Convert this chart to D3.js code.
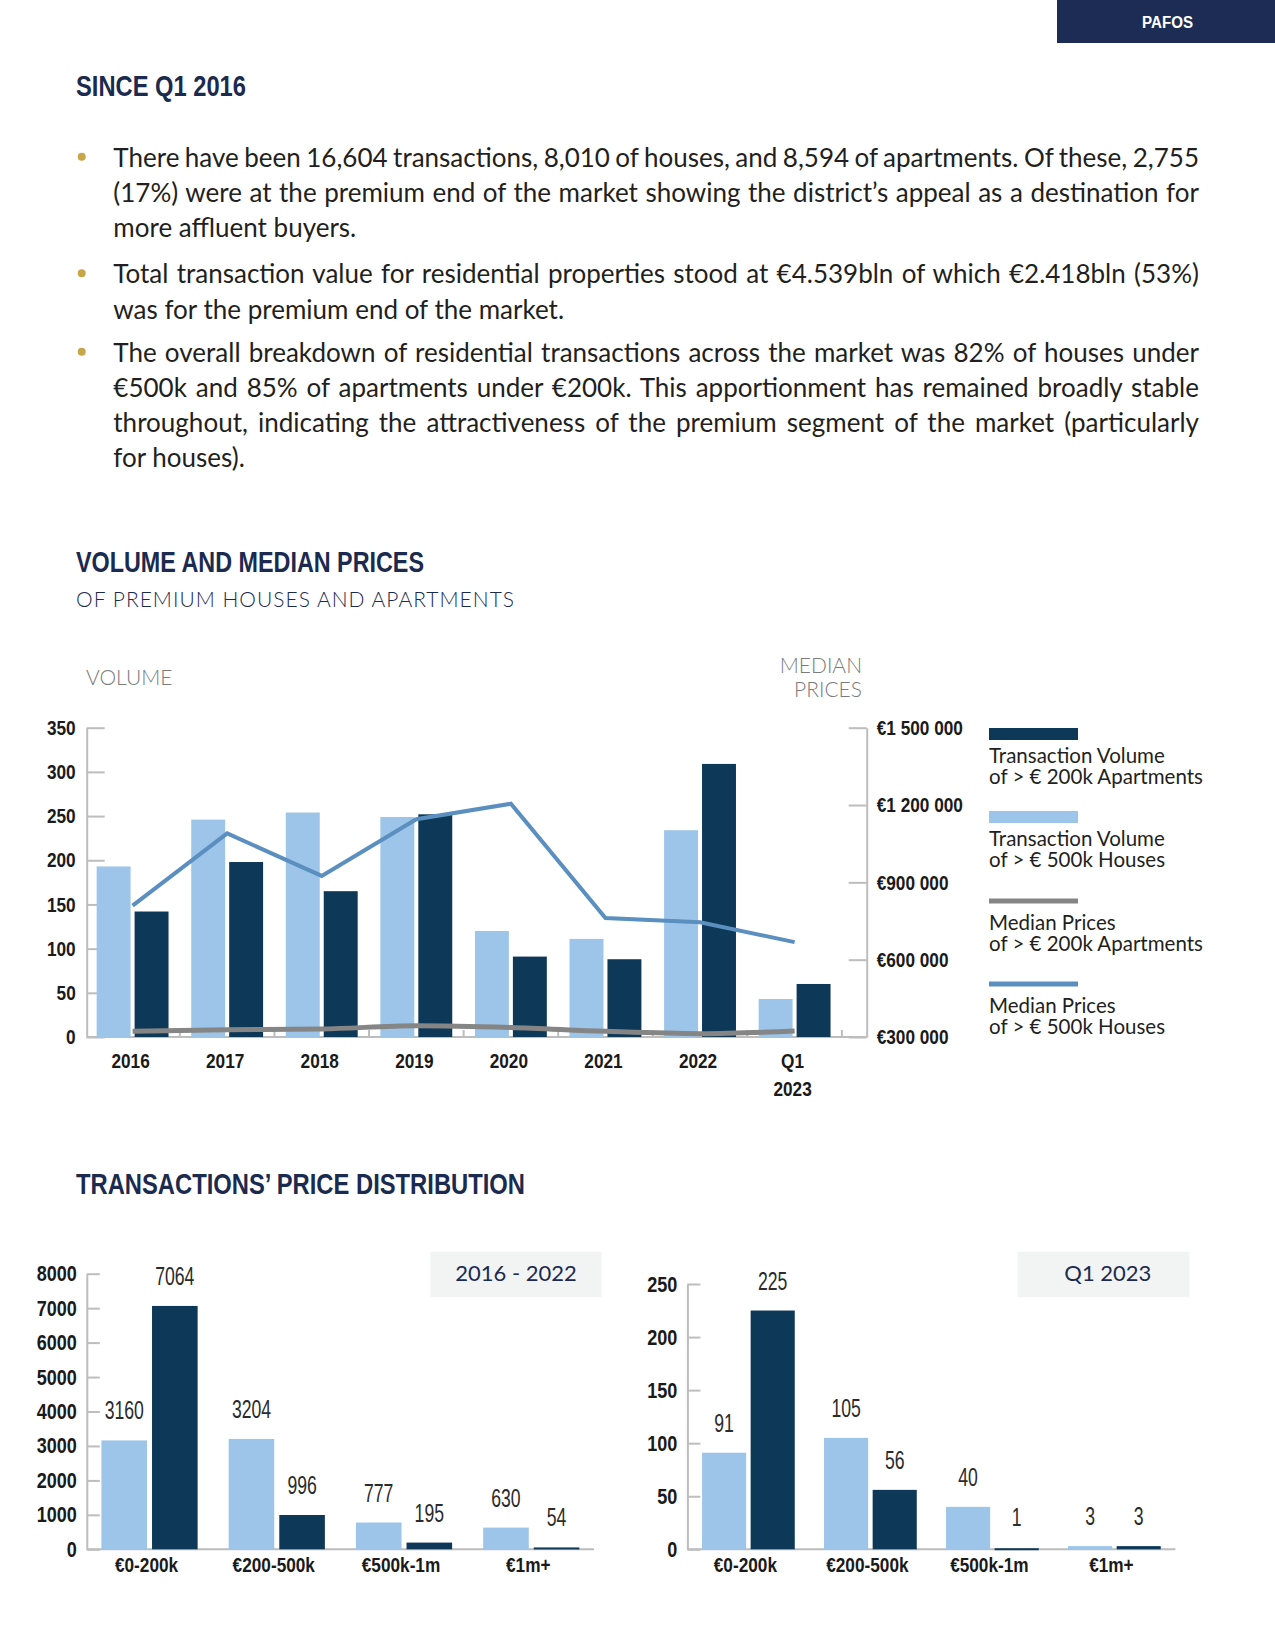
<!DOCTYPE html>
<html>
<head>
<meta charset="utf-8">
<script src="https://cdn.jsdelivr.net/npm/d3@7"></script>
<style>
body { margin: 0; background: #fff; }
svg { display: block; }
</style>
</head>
<body>
<svg id="page"></svg>
<script>
// ---- data ----
var years = ["2016", "2017", "2018", "2019", "2020", "2021", "2022", "Q1 2023"];
var volHouses = [193, 246, 254, 249, 120, 111, 234, 43];     // > €500k houses
var volApts = [142, 198, 165, 252, 91, 88, 309, 60];         // > €200k apartments
var medHouses = [810000, 1090000, 925000, 1145000, 1205000, 762000, 745000, 668000];
var medApts = [322000, 328000, 331000, 344000, 337000, 322000, 313000, 323000];
var volTicks = [0, 50, 100, 150, 200, 250, 300, 350];
var priceTicks = [300000, 600000, 900000, 1200000, 1500000];

var bands = ["€0-200k", "€200-500k", "€500k-1m", "€1m+"];
var allHouses = [3160, 3204, 777, 630];
var allApts = [7064, 996, 195, 54];
var allTicks = [0, 1000, 2000, 3000, 4000, 5000, 6000, 7000, 8000];
var q1Houses = [91, 105, 40, 3];
var q1Apts = [225, 56, 1, 3];
var q1Ticks = [0, 50, 100, 150, 200, 250];

var bullets = [
  ["There have been 16,604 transactions, 8,010 of houses, and 8,594 of apartments. Of these, 2,755",
   "(17%) were at the premium end of the market showing the district\u2019s appeal as a destination for",
   "more affluent buyers."],
  ["Total transaction value for residential properties stood at €4.539bln of which €2.418bln (53%)",
   "was for the premium end of the market."],
  ["The overall breakdown of residential transactions across the market was 82% of houses under",
   "€500k and 85% of apartments under €200k. This apportionment has remained broadly stable",
   "throughout, indicating the attractiveness of the premium segment of the market (particularly",
   "for houses)."]
];
var legendLabels = [
  ["Transaction Volume", "of > € 200k Apartments"],
  ["Transaction Volume", "of > € 500k Houses"],
  ["Median Prices", "of > € 200k Apartments"],
  ["Median Prices", "of > € 500k Houses"]
];

// ---- style ----
var navy = "#1b2a4f", lightBar = "#9dc5e9", darkBar = "#0e3858";
var grayLine = "#858585", blueLine = "#5a8fbf", axisGray = "#bdbdbd", ink = "#1a1a1a";
var BOLD = "'Liberation Sans',Arial,sans-serif";
var BODY = "Lato,'Open Sans',sans-serif";

var svg = d3.select("#page").attr("width", 1275).attr("height", 1650);

// squeeze a bold sans text to look condensed
var condense = function(sel, r) {
  sel.each(function() {
    var w = this.getComputedTextLength();
    d3.select(this).attr("textLength", w * r).attr("lengthAdjust", "spacingAndGlyphs");
  });
};
var boldLabel = function(sel, size) {
  sel.attr("font-family", BOLD).attr("font-weight", "bold").attr("font-size", size).attr("fill", ink);
  condense(sel, 0.82);
};

// header tab
svg.append("rect").attr("x", 1057).attr("y", 0).attr("width", 218).attr("height", 43).attr("fill", "#1c2c54");
svg.append("text").attr("x", 1142).attr("y", 28)
  .attr("font-family", BOLD).attr("font-weight", "bold").attr("font-size", 16)
  .attr("fill", "#fff").attr("textLength", 51).attr("lengthAdjust", "spacingAndGlyphs").text("PAFOS");

var heading = function(txt, x, y, w) {
  svg.append("text").attr("x", x).attr("y", y)
    .attr("font-family", BOLD).attr("font-weight", "bold").attr("font-size", 30)
    .attr("fill", navy).attr("textLength", w).attr("lengthAdjust", "spacingAndGlyphs")
    .text(txt);
};
heading("SINCE Q1 2016", 76, 95.7, 170);
heading("VOLUME AND MEDIAN PRICES", 76, 572.3, 348);
heading("TRANSACTIONS\u2019 PRICE DISTRIBUTION", 76, 1193.7, 449);

svg.append("text").attr("x", 76).attr("y", 607.3)
  .attr("font-family", BODY).attr("font-weight", 300).attr("font-size", 21)
  .attr("fill", navy).attr("textLength", 438).attr("lengthAdjust", "spacing")
  .text("OF PREMIUM HOUSES AND APARTMENTS");

// ---- bullet paragraphs ----
var paraY = [166.7, 283.3, 361.7];
var lineH = 35.2;
var probe = svg.append("text").attr("font-family", BODY).attr("font-size", 26).text("more affluent buyers.");
var bodySize = 26 * 243 / probe.node().getComputedTextLength();
probe.remove();

bullets.forEach(function(lines, p) {
  svg.append("circle").attr("cx", 81.7).attr("cy", paraY[p] - 10).attr("r", 4).attr("fill", "#c9a54a");
  lines.forEach(function(line, i) {
    var t = svg.append("text").attr("x", 113.3).attr("y", paraY[p] + i * lineH)
      .attr("font-family", BODY).attr("font-size", bodySize).attr("fill", "#231f20")
      .text(line);
    if (i < lines.length - 1) {
      var w = t.node().getComputedTextLength();
      var n = (line.match(/ /g) || []).length;
      t.style("word-spacing", ((1199 - 113.3 - w) / n) + "px");
    }
  });
});

// ---- chart 1: volume and median prices ----
var yVol = d3.scaleLinear().domain([0, 350]).range([1037, 727.7]);
var yPrice = d3.scaleLinear().domain([300000, 1500000]).range([1037, 727.7]);
var xYear = d3.scaleBand().domain(years).range([87.2, 840]).paddingInner(0.24).paddingOuter(0.1);
var bw = xYear.bandwidth(), half = (bw - 4) / 2;

var styleAxis = function(g, size) {
  g.select(".domain").attr("stroke", axisGray).attr("stroke-width", 2);
  g.selectAll(".tick line").attr("stroke", axisGray).attr("stroke-width", 2);
  g.selectAll(".tick text").call(boldLabel, size || 21);
};

svg.append("text").attr("x", 86).attr("y", 685).attr("font-family", BODY).attr("font-weight", 300)
  .attr("font-size", 21).attr("fill", "#7b7b7b").text("VOLUME");
svg.append("text").attr("x", 862).attr("y", 672.7).attr("text-anchor", "end").attr("font-family", BODY)
  .attr("font-weight", 300).attr("font-size", 21).attr("fill", "#7b7b7b").text("MEDIAN");
svg.append("text").attr("x", 862).attr("y", 697.3).attr("text-anchor", "end").attr("font-family", BODY)
  .attr("font-weight", 300).attr("font-size", 21).attr("fill", "#7b7b7b").text("PRICES");

// x axis line and group-boundary ticks
svg.append("line").attr("x1", 86.7).attr("x2", 866.7).attr("y1", 1037).attr("y2", 1037)
  .attr("stroke", axisGray).attr("stroke-width", 2);
svg.selectAll(".gtick").data(years).enter().append("line")
  .attr("x1", function(d) { return xYear(d) + bw + xYear.step() * 0.12; })
  .attr("x2", function(d) { return xYear(d) + bw + xYear.step() * 0.12; })
  .attr("y1", 1037).attr("y2", 1030).attr("stroke", axisGray).attr("stroke-width", 2);

svg.append("g").attr("transform", "translate(86.7,0)")
  .call(d3.axisLeft(yVol).tickValues(volTicks).tickSize(-18).tickSizeOuter(0).tickPadding(11))
  .call(styleAxis);

var fmtEuro = function(v) { return "€" + d3.format(",")(v).replace(/,/g, " "); };
svg.append("g").attr("transform", "translate(866.7,0)")
  .call(d3.axisRight(yPrice).tickValues(priceTicks).tickSize(-18).tickSizeOuter(0).tickPadding(10).tickFormat(fmtEuro))
  .call(styleAxis);

svg.selectAll(".barH").data(volHouses).enter().append("rect")
  .attr("x", function(d, i) { return xYear(years[i]); })
  .attr("y", function(d) { return yVol(d); })
  .attr("width", half)
  .attr("height", function(d) { return yVol(0) - yVol(d); })
  .attr("fill", lightBar);
svg.selectAll(".barA").data(volApts).enter().append("rect")
  .attr("x", function(d, i) { return xYear(years[i]) + half + 4; })
  .attr("y", function(d) { return yVol(d); })
  .attr("width", half)
  .attr("height", function(d) { return yVol(0) - yVol(d); })
  .attr("fill", darkBar);

var lineX = function(d, i) { return xYear(years[i]) + bw / 2; };
svg.append("path").datum(medApts)
  .attr("d", d3.line().x(lineX).y(function(d) { return yPrice(d); }).curve(d3.curveMonotoneX))
  .attr("fill", "none").attr("stroke", grayLine).attr("stroke-width", 5);
svg.append("path").datum(medHouses)
  .attr("d", d3.line().x(lineX).y(function(d) { return yPrice(d); }))
  .attr("fill", "none").attr("stroke", blueLine).attr("stroke-width", 4);

// year labels
years.forEach(function(y) {
  y.split(" ").forEach(function(p, k) {
    svg.append("text").attr("x", xYear(y) + bw / 2 - 2).attr("y", 1068 + k * 28)
      .attr("text-anchor", "middle").text(p).call(boldLabel, 21);
  });
});

// legend
var legendCy = [734, 817, 901, 984];
var legendKind = [["rect", darkBar], ["rect", lightBar], ["line", grayLine], ["line", blueLine]];
legendLabels.forEach(function(lab, i) {
  var h = legendKind[i][0] === "rect" ? 12 : 5;
  svg.append("rect").attr("x", 989).attr("y", legendCy[i] - h / 2).attr("width", 89).attr("height", h)
    .attr("fill", legendKind[i][1]);
  lab.forEach(function(t, k) {
    svg.append("text").attr("x", 989).attr("y", legendCy[i] + 29 + k * 21)
      .attr("font-family", BODY).attr("font-size", 20.5).attr("fill", "#231f20").text(t);
  });
});

// ---- price distribution charts ----
var distChart = function(o) {
  var x = d3.scaleBand().domain(bands).range([o.left, o.right]).paddingInner(o.pin).paddingOuter(o.pout);
  var y = d3.scaleLinear().domain([0, o.max]).range([1549.3, o.top]);
  var b = x.bandwidth(), hw = (b - o.gap) / 2;

  svg.append("rect").attr("x", o.box[0]).attr("y", 1251.7).attr("width", o.box[1] - o.box[0])
    .attr("height", 45.6).attr("fill", "#f2f4f4");
  svg.append("text").attr("x", o.boxText).attr("y", 1280.5).attr("text-anchor", "middle")
    .attr("font-family", BODY).attr("font-size", 22).attr("fill", navy).text(o.title);

  svg.append("line").attr("x1", o.left).attr("x2", o.right).attr("y1", 1549.3).attr("y2", 1549.3)
    .attr("stroke", axisGray).attr("stroke-width", 2);
  svg.append("g").attr("transform", "translate(" + o.left + ",0)")
    .call(d3.axisLeft(y).tickValues(o.ticks).tickFormat(d3.format("d"))
      .tickSize(-13).tickSizeOuter(0).tickPadding(10))
    .call(styleAxis, 22);

  var drawSet = function(vals, dx, color) {
    vals.forEach(function(v, i) {
      var bx = x(bands[i]) + dx;
      svg.append("rect").attr("x", bx).attr("y", y(v)).attr("width", hw)
        .attr("height", Math.max(y(0) - y(v), 2)).attr("fill", color);
      var s = String(v);
      svg.append("text").attr("x", bx + hw / 2).attr("y", Math.min(y(v), 1547) - 21)
        .attr("text-anchor", "middle").attr("font-family", BOLD).attr("font-size", 26)
        .attr("fill", "#2b2b2b").attr("textLength", s.length * 9.8)
        .attr("lengthAdjust", "spacingAndGlyphs").text(s);
    });
  };
  drawSet(o.houses, 0, lightBar);
  drawSet(o.apts, hw + o.gap, darkBar);

  bands.forEach(function(c) {
    svg.append("text").attr("x", x(c) + b / 2 - 3).attr("y", 1571.7).attr("text-anchor", "middle")
      .text(c).call(boldLabel, 21);
  });
};

distChart({ left: 86.8, right: 594, pin: 0.244, pout: 0.115, gap: 5, max: 8000, top: 1273.7,
  ticks: allTicks, houses: allHouses, apts: allApts,
  box: [430.5, 601.5], boxText: 516, title: "2016 - 2022" });
distChart({ left: 687.4, right: 1175.4, pin: 0.24, pout: 0.12, gap: 4.5, max: 250, top: 1284,
  ticks: q1Ticks, houses: q1Houses, apts: q1Apts,
  box: [1017.5, 1189.6], boxText: 1107.8, title: "Q1 2023" });
</script>
</body>
</html>
